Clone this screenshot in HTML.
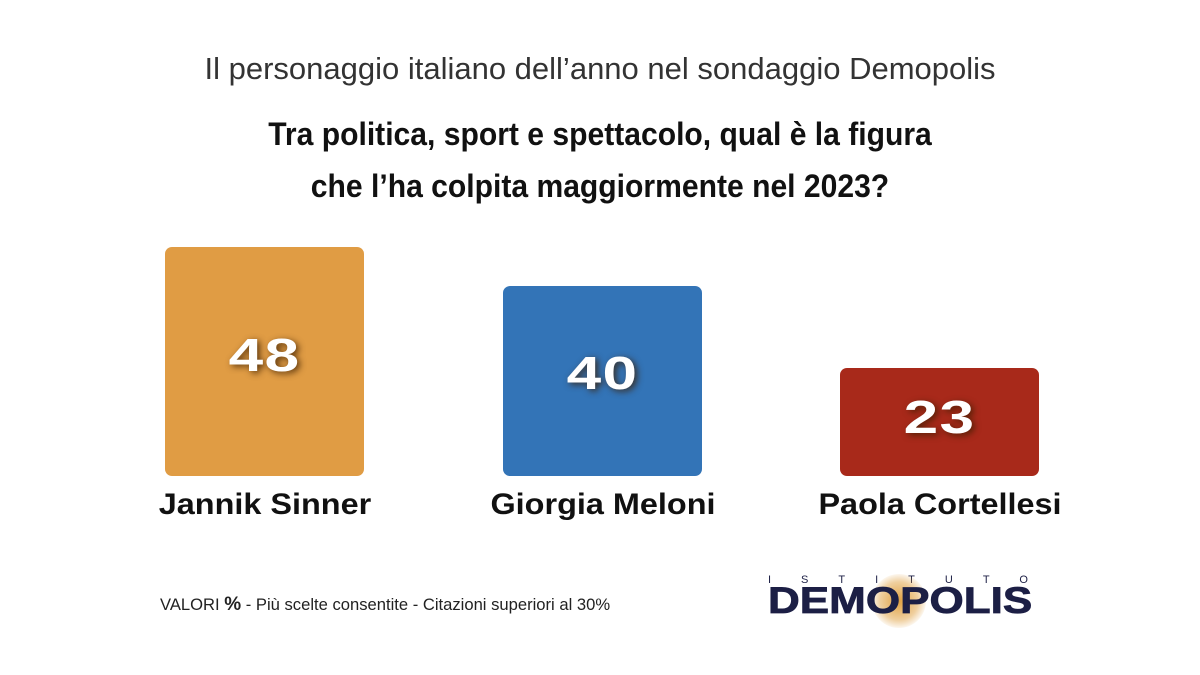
<!DOCTYPE html>
<html><head><meta charset="utf-8"><style>
body{margin:0;width:1200px;height:675px;background:#fff;position:relative;overflow:hidden;font-family:"Liberation Sans",sans-serif;color:#111}
.t{position:absolute;left:0;width:1200px;text-align:center}
.bar{position:absolute;width:199px;border-radius:7px}
.n{position:absolute;width:199px;text-align:center;color:#fff;font-weight:bold;font-size:46px;letter-spacing:1px;text-shadow:2px 2px 6px rgba(60,30,0,0.8);transform:scaleX(1.35)}
.lab{position:absolute;width:260px;text-align:center;font-size:30px;font-weight:bold;color:#111;transform:scaleX(1.08)}
</style></head><body>
<div class="t" style="top:51px;font-size:31px;color:#333">Il personaggio italiano dell’anno nel sondaggio Demopolis</div>
<div class="t" style="top:108px;font-size:32px;font-weight:bold;line-height:52px;transform:scaleX(0.94)">Tra politica, sport e spettacolo, qual è la figura<br>che l’ha colpita maggiormente nel 2023?</div>
<div class="bar" style="left:165px;top:247px;height:229px;background:#E09C44"></div>
<div class="bar" style="left:503px;top:286px;height:190px;background:#3374B7"></div>
<div class="bar" style="left:840px;top:368px;height:108px;background:#A8291A"></div>
<div class="n" style="left:165px;top:328px">48</div>
<div class="n" style="left:503px;top:346px">40</div>
<div class="n" style="left:840px;top:390px">23</div>
<div class="lab" style="left:135px;top:488px">Jannik Sinner</div>
<div class="lab" style="left:473px;top:488px">Giorgia Meloni</div>
<div class="lab" style="left:810px;top:488px">Paola Cortellesi</div>
<div style="position:absolute;left:160px;top:594px;font-size:16.6px;color:#222">VALORI <b style="font-size:19px">%</b> - Più scelte consentite - Citazioni superiori al 30%</div>
<div style="position:absolute;left:768px;top:574px;width:290px;font-size:11px;letter-spacing:30px;color:#1c1f45">ISTITUTO</div>
<div style="position:absolute;left:872px;top:574px;width:54px;height:54px;border-radius:50%;background:radial-gradient(circle,#e0a040 0%,rgba(224,160,64,0.5) 50%,rgba(255,255,255,0) 75%)"></div>
<div style="position:absolute;left:768px;top:580px;font-size:37px;font-weight:bold;color:#1c1f45;-webkit-text-stroke:0.8px #1c1f45;transform:scaleX(1.19);transform-origin:left">DEMOPOLIS</div>
</body></html>
